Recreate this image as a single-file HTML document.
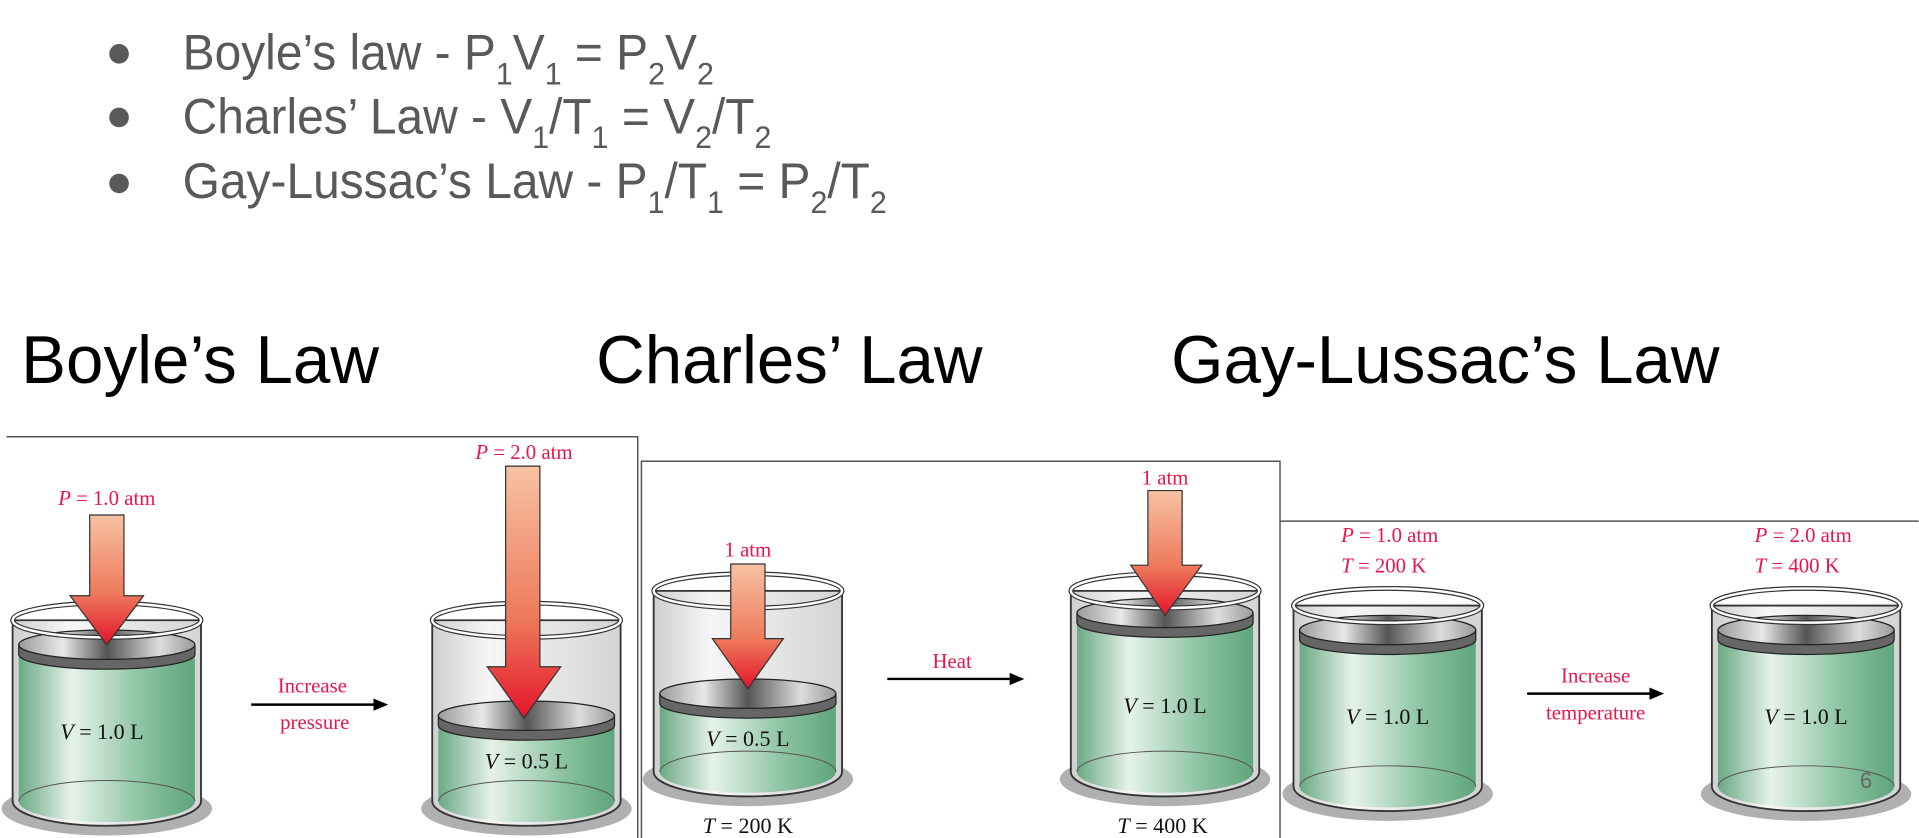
<!DOCTYPE html>
<html><head><meta charset="utf-8"><style>
html,body{margin:0;padding:0;background:#fff;width:1919px;height:838px;overflow:hidden}
svg{display:block}
.b{font-family:"Liberation Sans",sans-serif;fill:#595959;font-size:41px}
.h{font-family:"Liberation Sans",sans-serif;fill:#000;font-size:55px}
.r{font-family:"Liberation Serif",serif;fill:#e8174b;font-size:17px}
.v{font-family:"Liberation Serif",serif;fill:#111;font-size:18px}
</style></head><body>
<svg width="1919" height="838" viewBox="0 0 1568 685" xmlns="http://www.w3.org/2000/svg">
<defs>
<linearGradient id="g" x1="0" x2="1"><stop offset="0" stop-color="#6aa985"/><stop offset="0.3" stop-color="#e6f2ea"/><stop offset="0.7" stop-color="#8cc3a2"/><stop offset="1" stop-color="#5fa57d"/></linearGradient>
<linearGradient id="gl" x1="0" x2="1"><stop offset="0" stop-color="#cfcfcf"/><stop offset="0.3" stop-color="#f6f6f6"/><stop offset="1" stop-color="#d4d4d4"/></linearGradient>
<linearGradient id="p" x1="0" x2="1"><stop offset="0" stop-color="#9a9a9a"/><stop offset="0.25" stop-color="#e8e8e8"/><stop offset="0.5" stop-color="#555"/><stop offset="0.8" stop-color="#ddd"/><stop offset="1" stop-color="#999"/></linearGradient>
<linearGradient id="a" x1="0" y1="0" x2="0" y2="1"><stop offset="0" stop-color="#f7c2a3"/><stop offset="0.6" stop-color="#ee7a5c"/><stop offset="1" stop-color="#e3152a"/></linearGradient>
<g id="shell">
<ellipse cx="0" cy="6" rx="86" ry="22" fill="#b0b0b0"/>
<path d="M-77,-148 L-77,0 A77,20 0 0 0 77,0 L77,-148 Z" fill="url(#gl)" stroke="#333" stroke-width="1.5"/>
</g>
</defs>
<g class="b">
<circle cx="97" cy="44" r="8" fill="#595959"/><circle cx="97" cy="96" r="8" fill="#595959"/><circle cx="97" cy="150" r="8" fill="#595959"/>
<g transform="translate(149,0) scale(0.955,1) translate(-149,0)">
<text x="149" y="57">Boyle’s law - P<tspan dy="12" font-size="26">1</tspan><tspan dy="-12">V</tspan><tspan dy="12" font-size="26">1</tspan><tspan dy="-12"> = P</tspan><tspan dy="12" font-size="26">2</tspan><tspan dy="-12">V</tspan><tspan dy="12" font-size="26">2</tspan></text>
<text x="149" y="109">Charles’ Law - V<tspan dy="12" font-size="26">1</tspan><tspan dy="-12">/T</tspan><tspan dy="12" font-size="26">1</tspan><tspan dy="-12"> = V</tspan><tspan dy="12" font-size="26">2</tspan><tspan dy="-12">/T</tspan><tspan dy="12" font-size="26">2</tspan></text>
<text x="149" y="162">Gay-Lussac’s Law - P<tspan dy="12" font-size="26">1</tspan><tspan dy="-12">/T</tspan><tspan dy="12" font-size="26">1</tspan><tspan dy="-12"> = P</tspan><tspan dy="12" font-size="26">2</tspan><tspan dy="-12">/T</tspan><tspan dy="12" font-size="26">2</tspan></text>
</g>
</g>
<text class="h" x="17" y="313">Boyle’s Law</text>
<text class="h" x="487" y="313">Charles’ Law</text>
<text class="h" x="957" y="313">Gay-Lussac’s Law</text>
<g fill="none" stroke="#555" stroke-width="1.2">
<path d="M5,357 H521 V685"/>
<path d="M524,685 V377 H1046 V685"/>
<path d="M1046,426 H1568"/>
</g>

<g transform="translate(87,655)">
<use href="#shell"/>
<path d="M-72,-120 L-72,0 A72,17 0 0 0 72,0 L72,-120 Z" fill="url(#g)"/>
<path d="M-72,0 A72,17 0 0 1 72,0" fill="none" stroke="#555" stroke-width="0.8"/>
<path d="M-72,-128 L-72,-120 A72,12 0 0 0 72,-120 L72,-128 Z" fill="#666" stroke="#222"/>
<ellipse cx="0" cy="-128" rx="72" ry="12" fill="url(#p)" stroke="#222"/>
<ellipse cx="0" cy="-148" rx="77" ry="14" fill="none" stroke="#333" stroke-width="4"/>
<ellipse cx="0" cy="-148" rx="77" ry="14" fill="none" stroke="#fff" stroke-width="2"/>
</g>
<path d="M73,421 H101 V487 H117 L87,527 L57,487 H73 Z" fill="url(#a)" stroke="#333"/>
<text class="r" x="87" y="413" text-anchor="middle"><tspan font-style="italic">P</tspan> = 1.0 atm</text>
<text class="v" x="83" y="604" text-anchor="middle"><tspan font-style="italic">V</tspan> = 1.0 L</text>
<text class="r" x="255" y="566" text-anchor="middle">Increase</text>
<text class="r" x="257" y="596" text-anchor="middle">pressure</text>
<path d="M205,576 H310" stroke="#000" stroke-width="2"/><path d="M317,576 L305,571 L305,581 Z"/>
<g transform="translate(430,655)">
<use href="#shell"/>
<path d="M-72,-62 L-72,0 A72,17 0 0 0 72,0 L72,-62 Z" fill="url(#g)"/>
<path d="M-72,0 A72,17 0 0 1 72,0" fill="none" stroke="#555" stroke-width="0.8"/>
<path d="M-72,-70 L-72,-62 A72,12 0 0 0 72,-62 L72,-70 Z" fill="#666" stroke="#222"/>
<ellipse cx="0" cy="-70" rx="72" ry="12" fill="url(#p)" stroke="#222"/>
<ellipse cx="0" cy="-148" rx="77" ry="14" fill="none" stroke="#333" stroke-width="4"/>
<ellipse cx="0" cy="-148" rx="77" ry="14" fill="none" stroke="#fff" stroke-width="2"/>
</g>
<path d="M413,381 H441 V545 H458 L428,587 L398,545 H413 Z" fill="url(#a)" stroke="#333"/>
<text class="r" x="428" y="375" text-anchor="middle"><tspan font-style="italic">P</tspan> = 2.0 atm</text>
<text class="v" x="430" y="628" text-anchor="middle"><tspan font-style="italic">V</tspan> = 0.5 L</text>

<g transform="translate(611,631)">
<use href="#shell"/>
<path d="M-72,-56 L-72,0 A72,17 0 0 0 72,0 L72,-56 Z" fill="url(#g)"/>
<path d="M-72,0 A72,17 0 0 1 72,0" fill="none" stroke="#555" stroke-width="0.8"/>
<path d="M-72,-64 L-72,-56 A72,12 0 0 0 72,-56 L72,-64 Z" fill="#666" stroke="#222"/>
<ellipse cx="0" cy="-64" rx="72" ry="12" fill="url(#p)" stroke="#222"/>
<ellipse cx="0" cy="-148" rx="77" ry="14" fill="none" stroke="#333" stroke-width="4"/>
<ellipse cx="0" cy="-148" rx="77" ry="14" fill="none" stroke="#fff" stroke-width="2"/>
</g>
<path d="M597,461 H625 V522 H640 L611,563 L582,522 H597 Z" fill="url(#a)" stroke="#333"/>
<text class="r" x="611" y="455" text-anchor="middle">1 atm</text>
<text class="v" x="611" y="610" text-anchor="middle"><tspan font-style="italic">V</tspan> = 0.5 L</text>
<text class="v" x="611" y="681" text-anchor="middle"><tspan font-style="italic">T</tspan> = 200 K</text>
<text class="r" x="778" y="546" text-anchor="middle">Heat</text>
<path d="M725,555 H830" stroke="#000" stroke-width="2"/><path d="M837,555 L825,550 L825,560 Z"/>
<g transform="translate(952,631)">
<use href="#shell"/>
<path d="M-72,-122 L-72,0 A72,17 0 0 0 72,0 L72,-122 Z" fill="url(#g)"/>
<path d="M-72,0 A72,17 0 0 1 72,0" fill="none" stroke="#555" stroke-width="0.8"/>
<path d="M-72,-130 L-72,-122 A72,12 0 0 0 72,-122 L72,-130 Z" fill="#666" stroke="#222"/>
<ellipse cx="0" cy="-130" rx="72" ry="12" fill="url(#p)" stroke="#222"/>
<ellipse cx="0" cy="-148" rx="77" ry="14" fill="none" stroke="#333" stroke-width="4"/>
<ellipse cx="0" cy="-148" rx="77" ry="14" fill="none" stroke="#fff" stroke-width="2"/>
</g>
<path d="M938,401 H966 V462 H982 L952,503 L924,462 H938 Z" fill="url(#a)" stroke="#333"/>
<text class="r" x="952" y="396" text-anchor="middle">1 atm</text>
<text class="v" x="952" y="583" text-anchor="middle"><tspan font-style="italic">V</tspan> = 1.0 L</text>
<text class="v" x="950" y="681" text-anchor="middle"><tspan font-style="italic">T</tspan> = 400 K</text>

<g transform="translate(1134,643)">
<use href="#shell"/>
<path d="M-72,-120 L-72,0 A72,17 0 0 0 72,0 L72,-120 Z" fill="url(#g)"/>
<path d="M-72,0 A72,17 0 0 1 72,0" fill="none" stroke="#555" stroke-width="0.8"/>
<path d="M-72,-128 L-72,-120 A72,12 0 0 0 72,-120 L72,-128 Z" fill="#666" stroke="#222"/>
<ellipse cx="0" cy="-128" rx="72" ry="12" fill="url(#p)" stroke="#222"/>
<ellipse cx="0" cy="-148" rx="77" ry="14" fill="none" stroke="#333" stroke-width="4"/>
<ellipse cx="0" cy="-148" rx="77" ry="14" fill="none" stroke="#fff" stroke-width="2"/>
</g>
<text class="r" x="1096" y="443"><tspan font-style="italic">P</tspan> = 1.0 atm</text>
<text class="r" x="1096" y="468"><tspan font-style="italic">T</tspan> = 200 K</text>
<text class="v" x="1134" y="592" text-anchor="middle"><tspan font-style="italic">V</tspan> = 1.0 L</text>
<text class="r" x="1304" y="558" text-anchor="middle">Increase</text>
<text class="r" x="1304" y="588" text-anchor="middle">temperature</text>
<path d="M1248,567 H1353" stroke="#000" stroke-width="2"/><path d="M1360,567 L1348,562 L1348,572 Z"/>
<g transform="translate(1476,643)">
<use href="#shell"/>
<path d="M-72,-120 L-72,0 A72,17 0 0 0 72,0 L72,-120 Z" fill="url(#g)"/>
<path d="M-72,0 A72,17 0 0 1 72,0" fill="none" stroke="#555" stroke-width="0.8"/>
<path d="M-72,-128 L-72,-120 A72,12 0 0 0 72,-120 L72,-128 Z" fill="#666" stroke="#222"/>
<ellipse cx="0" cy="-128" rx="72" ry="12" fill="url(#p)" stroke="#222"/>
<ellipse cx="0" cy="-148" rx="77" ry="14" fill="none" stroke="#333" stroke-width="4"/>
<ellipse cx="0" cy="-148" rx="77" ry="14" fill="none" stroke="#fff" stroke-width="2"/>
</g>
<text class="r" x="1434" y="443"><tspan font-style="italic">P</tspan> = 2.0 atm</text>
<text class="r" x="1434" y="468"><tspan font-style="italic">T</tspan> = 400 K</text>
<text class="v" x="1476" y="592" text-anchor="middle"><tspan font-style="italic">V</tspan> = 1.0 L</text>
<text x="1520" y="644" font-family="Liberation Sans,sans-serif" font-size="18" fill="#666">6</text>
</svg>
</body></html>
